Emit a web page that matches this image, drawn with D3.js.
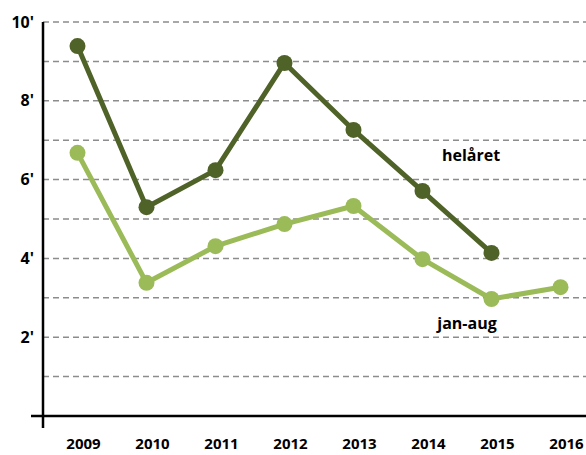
<!DOCTYPE html>
<html>
<head>
<meta charset="utf-8">
<script src="https://cdn.jsdelivr.net/npm/d3@7"></script>
<style>
  body { margin: 0; background: #fff; }
  text { font-family: "Open Sans", "Liberation Sans", sans-serif; font-weight: bold; fill: #000; }
</style>
</head>
<body>
<div id="chart"></div>
<script>
const years = ["2009", "2010", "2011", "2012", "2013", "2014", "2015", "2016"];
const helaret = [9.39, 5.30, 6.24, 8.96, 7.26, 5.71, 4.14, null];
const janAug = [6.68, 3.38, 4.31, 4.87, 5.33, 3.98, 2.97, 3.27];
const yTicks = [2, 4, 6, 8, 10];
const gridValues = [1, 2, 3, 4, 5, 6, 7, 8, 9, 10];

const width = 586;
const height = 455;

const svg = d3.select("#chart")
  .append("svg")
  .attr("width", width)
  .attr("height", height);

const x = d3.scaleBand().domain(years).range([43, 595]);
const y = d3.scaleLinear().domain([0, 10]).range([416, 22]);

// dashed gridlines
svg.append("g")
  .selectAll("line")
  .data(gridValues)
  .enter()
  .append("line")
  .attr("x1", 43)
  .attr("x2", width)
  .attr("y1", (d) => y(d))
  .attr("y2", (d) => y(d))
  .style("stroke", "#8c8c8c")
  .style("stroke-width", 1.5)
  .style("stroke-dasharray", "6,4");

// axes
svg.append("line")
  .attr("x1", 31).attr("x2", width)
  .attr("y1", y(0)).attr("y2", y(0))
  .style("stroke", "#000").style("stroke-width", 2.5);
svg.append("line")
  .attr("x1", 43).attr("x2", 43)
  .attr("y1", y(10)).attr("y2", 428)
  .style("stroke", "#000").style("stroke-width", 2.5);

// y labels
svg.append("g")
  .selectAll("text")
  .data(yTicks)
  .enter()
  .append("text")
  .attr("x", 34)
  .attr("y", (d) => y(d))
  .attr("dy", "0.35em")
  .attr("text-anchor", "end")
  .style("font-size", "16px")
  .text((d) => d + "'");

// x labels
svg.append("g")
  .selectAll("text")
  .data(years)
  .enter()
  .append("text")
  .attr("x", (d) => x(d) + x.bandwidth() / 2 + 6)
  .attr("y", 449)
  .style("font-size", "15px")
  .attr("text-anchor", "middle")
  .text((d) => d);

function drawSeries(values, color) {
  const pts = years.map((yr, i) => ({ yr: yr, v: values[i] })).filter((d) => d.v != null);
  const line = d3.line()
    .x((d) => x(d.yr) + x.bandwidth() / 2)
    .y((d) => y(d.v));
  svg.append("path")
    .datum(pts)
    .attr("d", line)
    .style("fill", "none")
    .style("stroke", color)
    .style("stroke-width", 5)
    .style("stroke-linejoin", "round");
  svg.append("g")
    .selectAll("circle")
    .data(pts)
    .enter()
    .append("circle")
    .attr("cx", (d) => x(d.yr) + x.bandwidth() / 2)
    .attr("cy", (d) => y(d.v))
    .attr("r", 8)
    .style("fill", color);
}

drawSeries(janAug, "#9bbb59");
drawSeries(helaret, "#4f6228");

// series labels
svg.append("text")
  .attr("x", 471).attr("y", 155).attr("dy", "0.35em")
  .attr("text-anchor", "middle")
  .style("font-size", "16px")
  .text("helåret");
svg.append("text")
  .attr("x", 467).attr("y", 323).attr("dy", "0.35em")
  .attr("text-anchor", "middle")
  .style("font-size", "16px")
  .text("jan-aug");
</script>
</body>
</html>
